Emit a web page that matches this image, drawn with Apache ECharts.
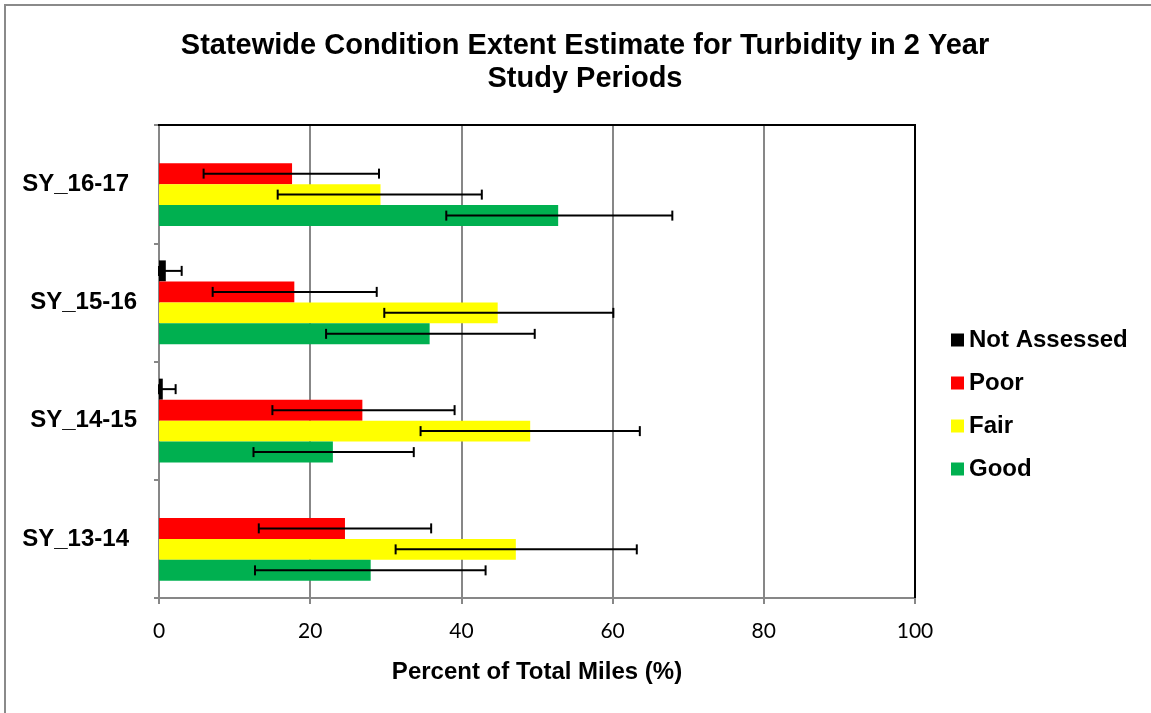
<!DOCTYPE html>
<html>
<head>
<meta charset="utf-8">
<script src="https://cdn.jsdelivr.net/npm/echarts@6/dist/echarts.min.js"></script>
<style>
html,body{margin:0;padding:0;background:#fff;}
#chart{width:1151px;height:713px;}
</style>
</head>
<body>
<div id="chart"></div>
<script>
// Categories (bottom to top)
const categories = ['SY_13-14', 'SY_14-15', 'SY_15-16', 'SY_16-17'];
const xTicks = [0, 20, 40, 60, 80, 100];

// Series values (%)
const notAssessed = [null, 0.5, 0.9, null];
const poor = [24.6, 26.9, 17.9, 17.6];
const fair = [47.2, 49.1, 44.8, 29.3];
const good = [28.0, 23.0, 35.8, 52.8];

// Error bar bounds (low / high)
const notAssessedLow = [null, 0, 0, null];
const notAssessedHigh = [null, 2.2, 3.0, null];
const poorLow = [13.2, 15.0, 7.1, 5.9];
const poorHigh = [36.0, 39.1, 28.8, 29.1];
const fairLow = [31.3, 34.6, 29.8, 15.7];
const fairHigh = [63.2, 63.6, 60.1, 42.7];
const goodLow = [12.7, 12.5, 22.1, 38.0];
const goodHigh = [43.2, 33.7, 49.7, 67.9];

const seriesNames = ['Not Assessed', 'Poor', 'Fair', 'Good'];
const seriesColors = ['#000000', '#FF0000', '#FFFF00', '#00B050'];
const seriesValues = [notAssessed, poor, fair, good];
const lows = [notAssessedLow, poorLow, fairLow, goodLow];
const highs = [notAssessedHigh, poorHigh, fairHigh, goodHigh];

const GAP = 0.29; // barCategoryGap fraction
const NS = seriesNames.length;

function errData(k) {
  const out = [];
  for (let i = 0; i < categories.length; i++) {
    if (lows[k][i] == null) continue;
    out.push([lows[k][i], highs[k][i], i]);
  }
  return out;
}

function makeErr(k) {
  return {
    type: 'custom',
    name: seriesNames[k] + ' error',
    silent: true,
    z: 10,
    data: errData(k),
    encode: { x: [0, 1], y: 2 },
    renderItem: function (params, api) {
      const lo = api.value(0), hi = api.value(1), ci = api.value(2);
      const pLo = api.coord([lo, ci]);
      const pHi = api.coord([hi, ci]);
      const band = api.size([0, 1])[1];
      const total = band * (1 - GAP);
      const bw = total / NS;
      const y = pLo[1] - total / 2 + bw * (k + 0.5);
      const cap = 5;
      const style = { stroke: '#000', lineWidth: 2, fill: null };
      return {
        type: 'group',
        children: [
          { type: 'line', shape: { x1: pLo[0], y1: y, x2: pHi[0], y2: y }, style: style },
          { type: 'line', shape: { x1: pLo[0], y1: y - cap, x2: pLo[0], y2: y + cap }, style: style },
          { type: 'line', shape: { x1: pHi[0], y1: y - cap, x2: pHi[0], y2: y + cap }, style: style }
        ]
      };
    }
  };
}

const series = [];
for (let k = 0; k < NS; k++) {
  series.push({
    type: 'bar',
    name: seriesNames[k],
    data: seriesValues[k],
    barGap: '0%',
    barCategoryGap: (GAP * 100) + '%',
    itemStyle: { color: seriesColors[k] },
    silent: true
  });
}
for (let k = 0; k < NS; k++) series.push(makeErr(k));

const labelFont = { fontFamily: 'Liberation Sans', fontWeight: 'bold', fontSize: 24, color: '#000' };

const chart = echarts.init(document.getElementById('chart'), null, { renderer: 'canvas' });
chart.setOption({
  animation: false,
  backgroundColor: '#ffffff',
  title: {
    text: 'Statewide Condition Extent Estimate for Turbidity in 2 Year\nStudy Periods',
    left: 580,
    top: 24,
    textAlign: 'center',
    textStyle: {
      fontFamily: 'Liberation Sans',
      fontWeight: 'bold',
      fontSize: 29,
      lineHeight: 33,
      color: '#000'
    }
  },
  legend: {
    orient: 'vertical',
    left: 951,
    top: 328,
    padding: 0,
    icon: 'rect',
    itemWidth: 13,
    itemHeight: 13,
    itemGap: 19,
    data: seriesNames,
    textStyle: labelFont
  },
  grid: { left: 159, right: 236, top: 125, bottom: 115, containLabel: false },
  xAxis: {
    type: 'value',
    min: 0,
    max: 100,
    interval: 20,
    name: 'Percent of Total Miles (%)',
    nameLocation: 'middle',
    nameGap: 62,
    nameTextStyle: labelFont,
    axisLine: { show: true, lineStyle: { color: '#878787', width: 2 } },
    axisTick: { show: true, inside: false, length: 6, lineStyle: { color: '#878787', width: 2 } },
    axisLabel: {
      margin: 23,
      fontFamily: 'Lato',
      fontSize: 21,
      color: '#000',
      formatter: function (v) { return xTicks.indexOf(v) >= 0 ? String(v) : ''; }
    },
    splitLine: { show: true, lineStyle: { color: '#878787', width: 2 } }
  },
  yAxis: {
    type: 'category',
    data: categories,
    axisLine: { show: true, lineStyle: { color: '#878787', width: 2 } },
    axisTick: { show: true, length: 5, lineStyle: { color: '#878787', width: 2 } },
    axisLabel: {
      margin: 22,
      formatter: function (v) {
        return (v === 'SY_16-17' || v === 'SY_13-14') ? '{b|' + v + '}' : '{a|' + v + '}';
      },
      rich: {
        a: labelFont,
        b: Object.assign({ padding: [0, 8, 0, 0] }, labelFont)
      }
    },
    splitLine: { show: false }
  },
  graphic: [
    { type: 'rect', shape: { x: 5, y: 5, width: 1200, height: 800 }, style: { fill: null, stroke: '#8a8a8a', lineWidth: 2 }, silent: true },
    { type: 'polyline', shape: { points: [[158, 125], [915, 125], [915, 598]] }, style: { fill: null, stroke: '#000', lineWidth: 2 }, z: 20, silent: true }
  ],
  series: series
});
</script>
</body>
</html>
